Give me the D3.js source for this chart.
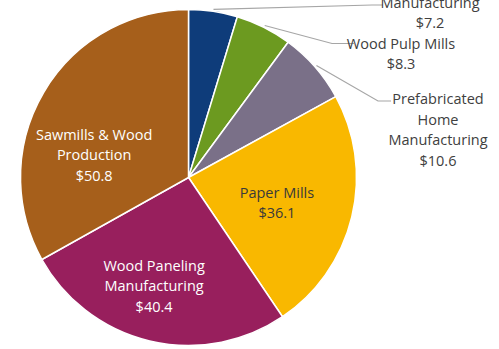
<!DOCTYPE html>
<html>
<head>
<meta charset="utf-8">
<script src="https://cdn.jsdelivr.net/npm/d3@7"></script>
<style>
  html, body { margin: 0; padding: 0; background: #ffffff; }
  svg { display: block; }
  text { font-family: "Open Sans", "Noto Sans", sans-serif; font-size: 14.5px; }
</style>
</head>
<body>
<svg id="chart" width="499" height="349"></svg>
<script>
// Industry revenue ($ billions), clockwise from 12 o'clock
const categories = [
  "Manufacturing",
  "Wood Pulp Mills",
  "Prefabricated Home Manufacturing",
  "Paper Mills",
  "Wood Paneling Manufacturing",
  "Sawmills & Wood Production"
];
const values = [7.2, 8.3, 10.6, 36.1, 40.4, 50.8];
const labelLines = [
  ["Manufacturing"],
  ["Wood Pulp Mills"],
  ["Prefabricated", "Home", "Manufacturing"],
  ["Paper Mills"],
  ["Wood Paneling", "Manufacturing"],
  ["Sawmills & Wood", "Production"]
];
const colors = ["#0e3c7a", "#6c9a20", "#7a7088", "#f9b800", "#981f5d", "#a65f1b"];

const svg = d3.select("#chart");
const cx = 188.5, cy = 177.5, radius = 168;
const lineH = 20.5;

const pie = d3.pie().value(d => d).sort(null);
const arcs = pie(values);
const arc = d3.arc().innerRadius(0).outerRadius(radius);

const g = svg.append("g").attr("transform", `translate(${cx},${cy})`);

g.selectAll("path.slice")
  .data(arcs)
  .join("path")
  .attr("class", "slice")
  .attr("d", arc)
  .attr("fill", (d, i) => colors[i])
  .attr("stroke", "#ffffff")
  .attr("stroke-width", 1.5)
  .attr("stroke-linejoin", "round");

const fmt = v => "$" + d3.format(".1f")(v);
const polar = (angle, r) => [r * Math.sin(angle), -r * Math.cos(angle)];

// Labels placed inside the large slices: angular nudge (deg) and distance from centre
const inside = {
  3: { shift: 2.4, r: 92, fill: "#3a3a3a" },
  4: { shift: 4.2, r: 114, fill: "#ffffff" },
  5: { shift: -17, r: 97, fill: "#ffffff" }
};
// Labels placed beside the small slices, with leader lines
const outside = {
  0: { x: 430, y: 2.5, elbowX: 372, elbowY: 5 },
  1: { x: 401, y: 43.5, elbowX: 332, elbowY: 43.5 },
  2: { x: 438, y: 99, elbowX: 378, elbowY: 101 }
};

arcs.forEach((d, i) => {
  const lines = labelLines[i].concat([fmt(values[i])]);
  const mid = (d.startAngle + d.endAngle) / 2;
  if (inside[i]) {
    const o = inside[i];
    const [px, py] = polar(mid + o.shift * Math.PI / 180, o.r);
    const top = py - (lines.length - 1) * lineH / 2;
    const t = g.append("text")
      .attr("text-anchor", "middle")
      .attr("fill", o.fill);
    lines.forEach((s, k) => {
      t.append("tspan")
        .attr("x", px)
        .attr("y", top + k * lineH)
        .attr("dy", "0.35em")
        .text(s);
    });
  } else {
    const o = outside[i];
    const [sx, sy] = polar(mid, radius + 2);
    const ex = o.elbowX - cx, ey = o.elbowY - cy;
    const labelLeft = o.x - cx - 52;
    g.append("path")
      .attr("d", d3.line()([[sx, sy], [ex, ey], [labelLeft + 5, ey]]))
      .attr("fill", "none")
      .attr("stroke", "#a6a6a6")
      .attr("stroke-width", 1.2);
    const t = svg.append("text")
      .attr("text-anchor", "middle")
      .attr("fill", "#404040");
    lines.forEach((s, k) => {
      t.append("tspan")
        .attr("x", o.x)
        .attr("y", o.y + k * lineH)
        .attr("dy", "0.35em")
        .text(s);
    });
  }
});
</script>
</body>
</html>
